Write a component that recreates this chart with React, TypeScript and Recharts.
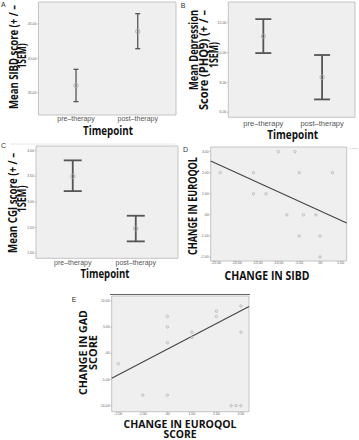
import React from "react"
import { ScatterChart, Scatter, XAxis, YAxis, ErrorBar, ReferenceArea, ReferenceLine, CartesianGrid } from "recharts"

// categories for the mean panels
const timepoints = ["pre–therapy", "post–therapy"]

// A: mean SIBD score +/- 1 SEM
const sibdMean = [36.05, 43.9]
const sibdLow = [33.7, 41.4]
const sibdHigh = [38.4, 46.5]
const sibdTicks = [35, 40, 45]

// B: mean PHQ9 +/- 1 SEM
const phqMean = [11.1, 8.35]
const phqLow = [9.97, 6.86]
const phqHigh = [12.25, 9.84]
const phqTicks = [6, 8, 10, 12]

// C: mean CGI +/- 1 SEM
const cgiMean = [3.5, 2.48]
const cgiLow = [3.21, 2.23]
const cgiHigh = [3.81, 2.73]
const cgiTicks = [2, 2.5, 3, 3.5, 4]

// D: change in SIBD vs change in EuroQoL
const sibdChange = [-24, -16, -16, -13, -10, -6, -5, 3, -8, -4, -1, -5, 0, 0]
const euroqolChangeD = [2, 2, 1, 1, 3, 3, 2, 2, 0, 0, 0, -1, -1, -2]
const fitD = [{ x: -26.3, y: 2.56 }, { x: 6.43, y: -0.39 }]
const dTicksX = [-25, -20, -15, -10, -5, 0, 5]
const dTicksY = [-2, -1, 0, 1, 2, 3]

// E: change in EuroQoL vs change in GAD
const euroqolChangeE = [-2, 0, 0, 0, 1, 1, 2, 2, 3, 3, -1, 0, 2.6, 2.8, 3]
const gadChange = [-2, 7, 5, 2, 4, 3, 8, 7, 9, 4, -8, -8, -10, -10, -10]
const fitE = [{ x: -2.27, y: -4.77 }, { x: 3.33, y: 8.89 }]
const eTicksX = [-2, -1, 0, 1, 2, 3]
const eTicksY = [-10, -5, 0, 5, 10]

const fmt = (v: number) => v.toFixed(2).replace(/^(-?)0\./, "$1.")
const tinyTick = { fontSize: 3.5, fill: "#666", fontFamily: "Liberation Sans" }
const catTick = { fontSize: 7, fill: "#555", fontFamily: "Liberation Sans" }

const MeanDot = (p: any) => <circle cx={p.cx} cy={p.cy} r={2.2} fill="none" stroke="#aaa" strokeWidth={0.8} />
const SmallDot = (p: any) => <circle cx={p.cx} cy={p.cy} r={1.2} fill="none" stroke="#aaa" strokeWidth={0.7} />

function MeanPanel({ left, top, width, height, margin, xh, tickGap, tickSize, xDomain, yDomain, yTicks, mean, low, high, cap, barWidth }: any) {
  const data = mean.map((m: number, i: number) => ({ x: i + 1, y: m, err: [m - low[i], high[i] - m] }))
  return (
    <div style={{ position: "absolute", left, top }}>
      <ScatterChart width={width} height={height} margin={margin}>
        <CartesianGrid horizontal={false} vertical={false} fill="#efefef" fillOpacity={1} />
        <XAxis type="number" dataKey="x" domain={xDomain} allowDataOverflow ticks={[1, 2]} interval={0}
          tickFormatter={(v) => timepoints[v - 1]} axisLine={false} tickLine={false} tickSize={0}
          tickMargin={tickGap} height={xh} tick={{ ...catTick, fontSize: tickSize }} />
        <YAxis type="number" dataKey="y" domain={yDomain} allowDataOverflow ticks={yTicks} interval={0}
          tickFormatter={fmt} width={10} axisLine={false} tickSize={1.5} tickMargin={0.5}
          tickLine={{ stroke: "#999", strokeWidth: 0.5 }} tick={tinyTick} />
        <ReferenceArea x1={xDomain[0]} x2={xDomain[1]} y1={yDomain[0]} y2={yDomain[1]} fill="none" stroke="#b8b8b8" strokeWidth={0.8} ifOverflow="visible" />
        <Scatter data={data} isAnimationActive={false} shape={MeanDot}>
          <ErrorBar dataKey="err" direction="y" width={cap} stroke="#555" strokeWidth={barWidth} isAnimationActive={false} />
        </Scatter>
      </ScatterChart>
    </div>
  )
}

function FitPanel({ left, top, width, height, margin, xh, xDomain, yDomain, xTicks, yTicks, xs, ys, fit }: any) {
  const data = xs.map((x: number, i: number) => ({ x, y: ys[i] }))
  return (
    <div style={{ position: "absolute", left, top }}>
      <ScatterChart width={width} height={height} margin={margin}>
        <CartesianGrid horizontal={false} vertical={false} fill="#efefef" fillOpacity={1} />
        <XAxis type="number" dataKey="x" domain={xDomain} allowDataOverflow ticks={xTicks} interval={0}
          tickFormatter={fmt} axisLine={false} tickSize={1} tickMargin={0} height={xh}
          tickLine={{ stroke: "#999", strokeWidth: 0.5 }} tick={tinyTick} />
        <YAxis type="number" dataKey="y" domain={yDomain} allowDataOverflow ticks={yTicks} interval={0}
          tickFormatter={fmt} width={10} axisLine={false} tickSize={1.5} tickMargin={0.5}
          tickLine={{ stroke: "#999", strokeWidth: 0.5 }} tick={tinyTick} />
        <ReferenceArea x1={xDomain[0]} x2={xDomain[1]} y1={yDomain[0]} y2={yDomain[1]} fill="none" stroke="#b8b8b8" strokeWidth={0.8} ifOverflow="visible" />
        <Scatter data={data} isAnimationActive={false} shape={SmallDot} />
        <ReferenceLine segment={fit} stroke="#444" strokeWidth={1.1} ifOverflow="visible" />
      </ScatterChart>
    </div>
  )
}

function Title({ x, y, text, len, size = 12.5, rotate = false }: any) {
  return (
    <text x={x} y={y} fontSize={size} fontWeight="bold" fontFamily="'Open Sans', sans-serif" fill="#111"
      textAnchor="middle" textLength={len} lengthAdjust="spacingAndGlyphs"
      transform={rotate ? `rotate(-90 ${x} ${y})` : undefined}>{text}</text>
  )
}

function Letter({ x, y, t }: any) {
  return <text x={x} y={y} fontSize={7} fontFamily="Liberation Sans" fill="#333">{t}</text>
}

export default function App() {
  return (
    <div style={{ position: "absolute", left: 0, top: 0, width: 359, height: 440, background: "#fff", overflow: "hidden" }}>
      <MeanPanel left={0} top={0} width={180} height={145} margin={{ top: 2, right: 4, left: 28.5, bottom: 0 }}
        xh={30} tickGap={1.5} tickSize={7} xDomain={[0.392, 2.62]} yDomain={[31.75, 48.2]} yTicks={sibdTicks}
        mean={sibdMean} low={sibdLow} high={sibdHigh} cap={2.5} barWidth={1.3} />
      <MeanPanel left={178} top={0} width={181} height={145} margin={{ top: 2, right: 4, left: 40.3, bottom: 0.7 }}
        xh={27} tickGap={3} tickSize={7.5} xDomain={[0.404, 2.56]} yDomain={[5.66, 13.4]} yTicks={phqTicks}
        mean={phqMean} low={phqLow} high={phqHigh} cap={8} barWidth={1.8} />
      <MeanPanel left={0} top={145} width={180} height={150} margin={{ top: 1, right: 2, left: 26, bottom: 6.7 }}
        xh={30} tickGap={2} tickSize={7} xDomain={[0.417, 2.67]} yDomain={[1.9, 4.09]} yTicks={cgiTicks}
        mean={cgiMean} low={cgiLow} high={cgiHigh} cap={9} barWidth={1.8} />
      <FitPanel left={178} top={145} width={181} height={150} margin={{ top: 2, right: 12.3, left: 22.7, bottom: 22 }}
        xh={12} xDomain={[-26.3, 6.43]} yDomain={[-2.19, 3.22]} xTicks={dTicksX} yTicks={dTicksY}
        xs={sibdChange} ys={euroqolChangeD} fit={fitD} />
      <FitPanel left={50} top={295} width={210} height={145} margin={{ top: 1, right: 11, left: 51.7, bottom: 16.3 }}
        xh={12} xDomain={[-2.27, 3.33]} yDomain={[-11.15, 10.9]} xTicks={eTicksX} yTicks={eTicksY}
        xs={euroqolChangeE} ys={gadChange} fit={fitE} />

      <svg width={359} height={440} style={{ position: "absolute", left: 0, top: 0, pointerEvents: "none" }}>
        <Letter x={1} y={6.7} t="A" />
        <Letter x={180.7} y={8.3} t="B" />
        <Letter x={1} y={148.3} t="C" />
        <Letter x={183} y={152} t="D" />
        <Letter x={71.7} y={302} t="E" />

        <Title x={17.5} y={57} text="Mean SIBD score (+ / –" len={104} rotate />
        <Title x={26} y={56} text="1SEM)" len={25} rotate />
        <Title x={108} y={135} text="Timepoint" len={50} />

        <Title x={198} y={50} text="Mean Depression" len={80} rotate />
        <Title x={208} y={60} text="Score (PHQ9) (+ / –" len={100} rotate />
        <Title x={218} y={55} text="1SEM)" len={26} rotate />
        <Title x={292.7} y={138.5} text="Timepoint" len={51} />

        <Title x={17} y={203} text="Mean CGI score (+ / –" len={100} rotate />
        <Title x={26} y={199} text="1SEM)" len={27} rotate />
        <Title x={105} y={278} text="Timepoint" len={49} />

        <Title x={197} y={206} text="CHANGE IN EUROQOL" len={98} rotate />
        <Title x={267} y={280} text="CHANGE IN SIBD" len={85} />
        <text x={349} y={148.5} fontSize={2.2} fill="#999" fontFamily="Liberation Sans">R² Linear = 0.25</text>

        <Title x={86.7} y={352.5} text="CHANGE IN GAD" len={85} size={11} rotate />
        <Title x={96.7} y={352.5} text="SCORE" len={35} size={11} rotate />
        <Title x={180} y={427.8} text="CHANGE IN EUROQOL" len={113} size={11} />
        <Title x={180} y={438} text="SCORE" len={33} size={11} />

        <line x1={10} y1={144} x2={175} y2={144} stroke="#e2e2e2" strokeWidth={0.8} />
        <line x1={110} y1={294.5} x2={250} y2={294.5} stroke="#555" strokeWidth={0.9} />
      </svg>
    </div>
  )
}
